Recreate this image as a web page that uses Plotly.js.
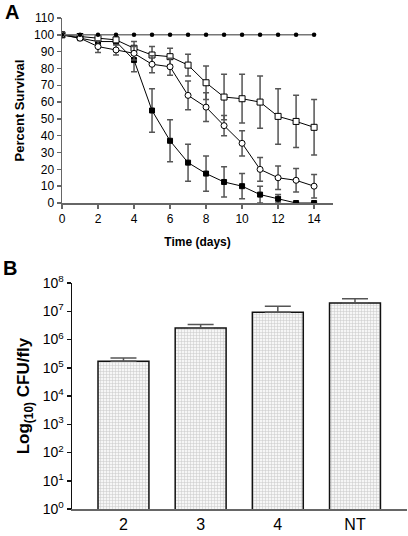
<!DOCTYPE html>
<html>
<head>
<meta charset="utf-8">
<script src="https://cdn.plot.ly/plotly-3.0.1.min.js"></script>
<style>
html,body{margin:0;padding:0;background:#fff;}
#chart{width:408px;height:536px;}
</style>
</head>
<body>
<div id="chart"></div>
<script>
// Panel A: survival over time
const days = [0,1,2,3,4,5,6,7,8,9,10,11,12,13,14];
const controlSurvival = [100,100,100,100,100,100,100,100,100,100,100,100,100,100,100];
const filledSquare = [100,98,96,96,85,55,37,24,17.5,12.5,10,5,2.5,0,0];
const filledSquareErr = [0,1,1.5,1.5,7,13,12.5,11,10.5,9,7.5,5,2.5,0,0];
const openCircle = [100,98,93,91,89,82.5,81,64,57,46,35.5,20,15,13.5,10];
const openCircleErr = [0,1,3.5,3,4,5,5,8.5,8.5,6,7.5,7,7,7,7];
const openSquare = [100,99,98,97,92,88,87,82,71.5,63,62,60,51.5,48.5,45];
const openSquareErr = [0,1,1.5,1.5,4,5,5,6.5,10,13.5,14.5,15.5,16.5,15.5,16.5];
const xTicks = [0,2,4,6,8,10,12,14];

// Panel B: bacterial load
const groups = ['2','3','4','NT'];
const cfu = [1.7e5,2.55e6,9.3e6,1.95e7];
const cfuErr = [0.5e5,0.85e6,5.7e6,0.8e7];
const logTickVals = [1,10,100,1e3,1e4,1e5,1e6,1e7,1e8];
const logTickText = ['10<sup>0</sup>','10<sup>1</sup>','10<sup>2</sup>','10<sup>3</sup>','10<sup>4</sup>',
                     '10<sup>5</sup>','10<sup>6</sup>','10<sup>7</sup>','10<sup>8</sup>'];

const errStyle = {type:'data', visible:true, color:'#555', thickness:1.5, width:3};
const font = 'Arial, "Liberation Sans", Helvetica, sans-serif';

const traces = [
  {x:days, y:filledSquare, error_y:Object.assign({array:filledSquareErr}, errStyle),
   mode:'lines+markers', line:{color:'#000', width:1},
   marker:{symbol:'square', size:5, color:'#000', line:{color:'#000', width:1}},
   xaxis:'x', yaxis:'y', name:'filled square'},
  {x:days, y:openSquare, error_y:Object.assign({array:openSquareErr}, errStyle),
   mode:'lines+markers', line:{color:'#000', width:1},
   marker:{symbol:'square', size:6, color:'#fff', line:{color:'#000', width:1}},
   xaxis:'x', yaxis:'y', name:'open square'},
  {x:days, y:openCircle, error_y:Object.assign({array:openCircleErr}, errStyle),
   mode:'lines+markers', line:{color:'#000', width:1},
   marker:{symbol:'circle', size:6, color:'#fff', line:{color:'#000', width:1}},
   xaxis:'x', yaxis:'y', name:'open circle'},
  {x:days, y:controlSurvival,
   mode:'lines+markers', line:{color:'#777', width:1.5},
   marker:{symbol:'circle', size:4.5, color:'#000'},
   xaxis:'x', yaxis:'y', name:'control'},
  {x:groups, y:cfu, type:'bar', width:0.66,
   error_y:{type:'data', symmetric:false, array:cfuErr, arrayminus:[0,0,0,0], visible:true,
            color:'#555', thickness:1.5, width:13},
   marker:{color:'#ececec', line:{color:'#111', width:1.5},
           pattern:{shape:'+', size:3, solidity:0.3, fgcolor:'#c8c8c8', bgcolor:'#f6f6f6'}},
   xaxis:'x2', yaxis:'y2', name:'CFU'}
];

const layout = {
  width:408, height:536,
  margin:{l:0, r:0, t:0, b:0},
  paper_bgcolor:'#fff', plot_bgcolor:'#fff',
  showlegend:false,
  font:{family:font, color:'#000'},
  xaxis:{domain:[62/408, 333/408], range:[0,15.05], tickvals:xTicks,
         showgrid:false, zeroline:false, showline:true, linecolor:'#666', linewidth:1.5,
         ticks:'outside', ticklen:4, tickcolor:'#666', tickwidth:1.5,
         tickfont:{size:12, family:font},
         title:{text:'<b>Time (days)</b>', font:{size:12, family:font}, standoff:12},
         anchor:'y'},
  yaxis:{domain:[1-203/536, 1-18/536], range:[0,110], dtick:10,
         showgrid:false, zeroline:false, showline:true, linecolor:'#666', linewidth:1.5,
         ticks:'outside', ticklen:4, tickcolor:'#666', tickwidth:1.5,
         tickfont:{size:12, family:font},
         title:{text:'<b>Percent Survival</b>', font:{size:13, family:font}, standoff:6},
         anchor:'x'},
  xaxis2:{domain:[72/408, 407/408], range:[-0.667,3.674], type:'category',
         showgrid:false, zeroline:false, showline:true, linecolor:'#666', linewidth:1.5,
         ticks:'', tickfont:{size:16, family:font}, anchor:'y2'},
  yaxis2:{domain:[1-509/536, 1-283/536], type:'log', range:[0,8],
         tickvals:logTickVals, ticktext:logTickText,
         showgrid:false, zeroline:false, showline:true, linecolor:'#111', linewidth:1.5,
         ticks:'outside', ticklen:4, tickcolor:'#111', tickwidth:1.5,
         tickfont:{size:14, family:font},
         title:{text:'<b>Log<sub>(10)</sub> CFU/fly</b>', font:{size:17, family:font}, standoff:8},
         anchor:'x2'},
  annotations:[
    {text:'<b>A</b>', xref:'paper', yref:'paper', x:12/408, y:1-12/536, showarrow:false,
     font:{size:20, family:font}, xanchor:'center', yanchor:'middle'},
    {text:'<b>B</b>', xref:'paper', yref:'paper', x:10/408, y:1-268/536, showarrow:false,
     font:{size:20, family:font}, xanchor:'center', yanchor:'middle'}
  ]
};

Plotly.newPlot('chart', traces, layout, {displayModeBar:false, staticPlot:true});
</script>
</body>
</html>
